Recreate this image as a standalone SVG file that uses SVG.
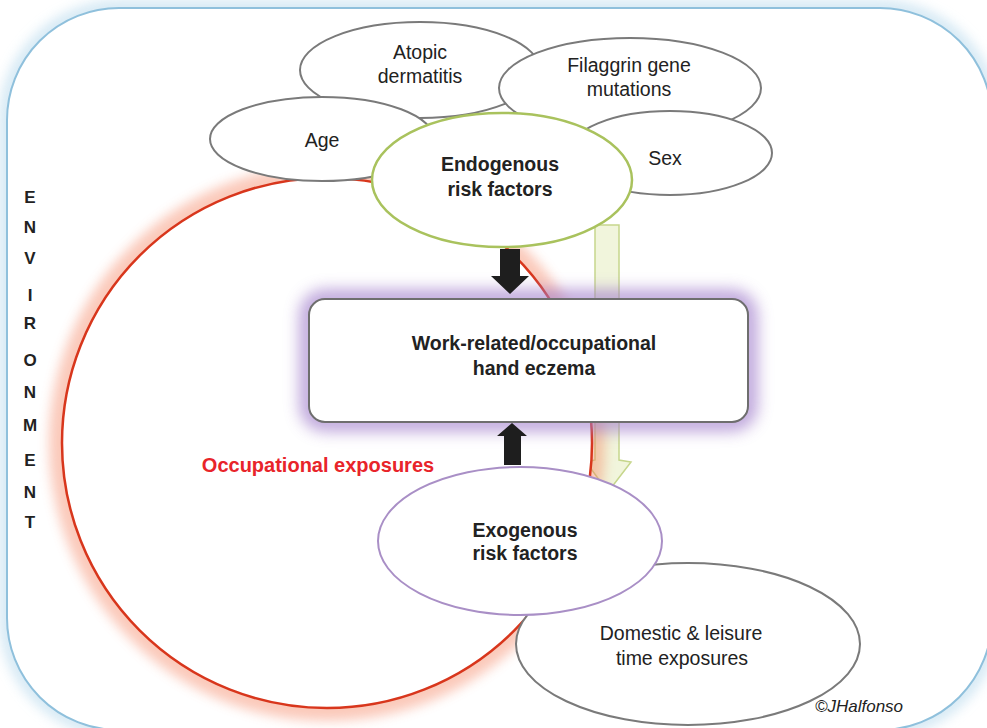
<svg xmlns="http://www.w3.org/2000/svg" width="987" height="728" viewBox="0 0 987 728">
<defs>
<filter id="blur6" x="-20%" y="-20%" width="140%" height="140%"><feGaussianBlur stdDeviation="6"/></filter>
<filter id="blur8" x="-20%" y="-30%" width="140%" height="160%"><feGaussianBlur stdDeviation="8"/></filter>
<style>
text{font-family:"Liberation Sans",Arial,sans-serif;fill:#222;text-anchor:middle}
.b{font-weight:bold}
.sat{fill:#fff;stroke:#7a7a7a;stroke-width:2}
.lbl{font-size:19.5px}
.env{font-size:17px;font-weight:bold}
</style>
</defs>
<rect width="987" height="728" fill="#fff"/>
<g id="environment">
<rect x="7" y="8" width="985" height="722" rx="112" fill="none" stroke="#c4e0f0" stroke-width="16" opacity="0.7" filter="url(#blur6)"/>
<rect x="7" y="8" width="985" height="722" rx="112" fill="#fff" stroke="#8fc0dc" stroke-width="2"/>
<g class="env">
<text x="30" y="203" class="env">E</text>
<text x="30" y="233" class="env">N</text>
<text x="30" y="264" class="env">V</text>
<text x="30" y="301" class="env">I</text>
<text x="30" y="329" class="env">R</text>
<text x="30" y="366" class="env">O</text>
<text x="30" y="398" class="env">N</text>
<text x="30" y="431" class="env">M</text>
<text x="30" y="466" class="env">E</text>
<text x="30" y="498" class="env">N</text>
<text x="30" y="528" class="env">T</text>
</g>
</g>
<g id="connectors">
<path id="pale-arrow" d="M595,225 L619,225 L619,460 L631,462 L608,492 L586,462 L595,460 Z" fill="#f1f5dc" stroke="#c6d68c" stroke-width="1.5"/>
</g>
<g id="occupational-exposures">
<circle cx="327" cy="443" r="266" fill="none" stroke="#f47a55" stroke-width="24" opacity="0.4" filter="url(#blur6)"/>
<circle cx="327" cy="443" r="265" fill="#fff" stroke="#d8361c" stroke-width="2.5"/>
<text x="318" y="472" class="b" style="font-size:20px;fill:#e8242a">Occupational exposures</text>
</g>
<g id="outcome">
<rect x="309" y="299" width="439" height="123" rx="16" fill="none" stroke="#a27fcc" stroke-width="18" opacity="0.75" filter="url(#blur8)"/>
<rect x="309" y="299" width="439" height="123" rx="16" fill="#fff" stroke="#6e6e6e" stroke-width="2"/>
<text x="534" y="350" class="b lbl">Work-related/occupational</text>
<text x="534" y="375" class="b lbl">hand eczema</text>
</g>
<g id="atopic-dermatitis">
<ellipse cx="420" cy="70" rx="120" ry="48" class="sat"/>
<text x="420" y="59" class="lbl">Atopic</text>
<text x="420" y="83" class="lbl">dermatitis</text>
</g>
<g id="filaggrin">
<ellipse cx="630" cy="88" rx="131" ry="50" class="sat"/>
<text x="629" y="72" class="lbl">Filaggrin gene</text>
<text x="629" y="96" class="lbl">mutations</text>
</g>
<g id="age">
<ellipse cx="322" cy="139" rx="112" ry="42" class="sat"/>
<text x="322" y="147" class="lbl">Age</text>
</g>
<g id="sex">
<ellipse cx="670" cy="153" rx="102" ry="42" class="sat"/>
<text x="665" y="165" class="lbl">Sex</text>
</g>
<g id="endogenous">
<ellipse cx="502" cy="180" rx="130" ry="67" fill="#fff" stroke="#a9c25d" stroke-width="2.5"/>
<text x="500" y="171" class="b lbl">Endogenous</text>
<text x="500" y="196" class="b lbl">risk factors</text>
</g>
<g id="domestic">
<ellipse cx="688" cy="644" rx="172" ry="81" class="sat"/>
<text x="681" y="640" class="lbl">Domestic &amp; leisure</text>
<text x="682" y="665" class="lbl">time exposures</text>
</g>
<g id="exogenous">
<ellipse cx="520" cy="541" rx="142" ry="74" fill="#fff" stroke="#a98fc6" stroke-width="2"/>
<text x="525" y="537" class="b lbl">Exogenous</text>
<text x="525" y="560" class="b lbl">risk factors</text>
</g>
<g id="connectors-black">
<path d="M500,249 L520,249 L520,276 L529,276 L510,294 L491,276 L500,276 Z" fill="#1e1e1e"/>
<path d="M504,465 L521,465 L521,436 L527,436 L512,423 L497,436 L504,436 Z" fill="#1e1e1e"/>
</g>
<text x="859" y="712" style="font-size:17px;font-style:italic">©JHalfonso</text>
</svg>
